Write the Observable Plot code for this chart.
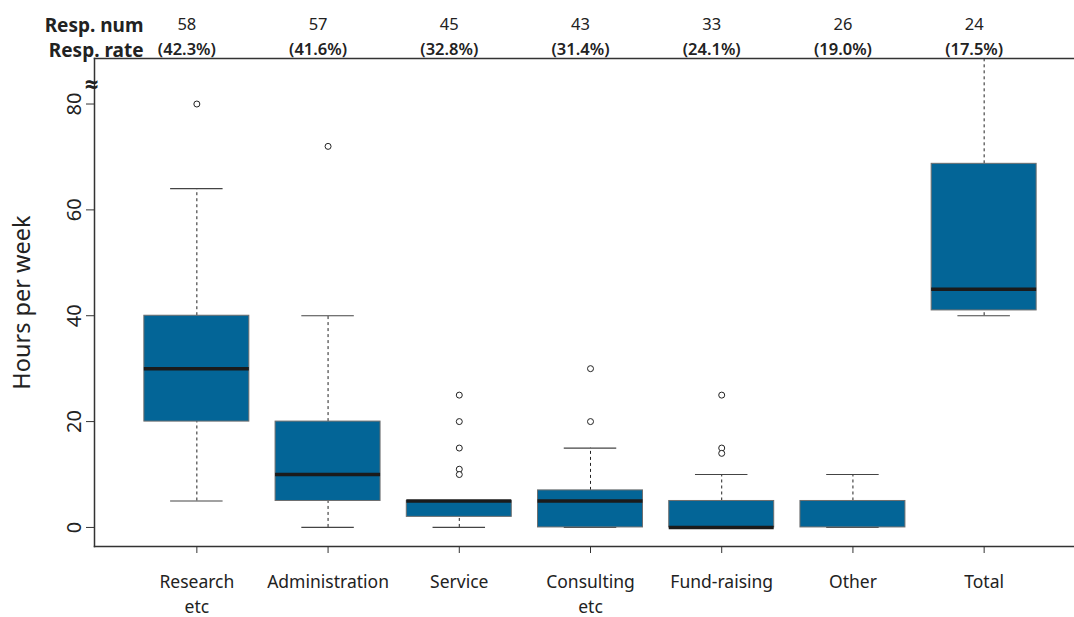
<!DOCTYPE html>
<html>
<head>
<meta charset="utf-8">
<script src="https://cdn.jsdelivr.net/npm/d3@7"></script>
<script src="https://cdn.jsdelivr.net/npm/@observablehq/plot@0.6"></script>
<style>
  html, body { margin: 0; padding: 0; background: #fff; }
  svg { display: block; }
</style>
</head>
<body>
<div id="chart"></div>
<script>
// ---- data ----
const categories = ["Research\netc", "Administration", "Service", "Consulting\netc", "Fund-raising", "Other", "Total"];
const respNum   = ["58", "57", "45", "43", "33", "26", "24"];
const respRate  = ["(42.3%)", "(41.6%)", "(32.8%)", "(31.4%)", "(24.1%)", "(19.0%)", "(17.5%)"];
const q1        = [20, 5, 2, 0, 0, 0, 41];
const median    = [30, 10, 5, 5, 0, NaN, 45];
const q3        = [40, 20, 5, 7, 5, 5, 68.7];
const whiskerLo = [5, 0, 0, 0, 0, 0, 40];
const whiskerHi = [64, 40, 5, 15, 10, 10, 120];
const outliers  = [[80], [72], [25, 20, 15, 11, 10], [30, 20], [25, 15, 14], [], []];
const yTicks    = [0, 20, 40, 60, 80];
const breakAt   = [83.6];

// ---- derived tables ----
const boxes = categories.map((c, i) => ({
  pos: i + 1, name: c, q1: q1[i], med: median[i], q3: q3[i],
  lo: whiskerLo[i], hi: whiskerHi[i], num: respNum[i], rate: respRate[i]
}));
const outlierPts = outliers.flatMap((vals, i) => vals.map(v => ({pos: i + 1, v})));
const half = 0.4, capHalf = 0.2;

const ink = "#222";
const chart = Plot.plot({
  width: 1074,
  height: 617,
  marginTop: 58,
  marginBottom: 71,
  marginLeft: 94,
  marginRight: 0,
  style: {fontFamily: "'Noto Sans', 'Open Sans', sans-serif", color: ink, background: "#fff"},
  x: {type: "linear", domain: [0.22, 7.78], range: [94, 1086]},
  y: {domain: [-3.6, 88.6]},
  marks: [
    // whiskers
    Plot.ruleX(boxes, {x: "pos", y1: "q3", y2: "hi", stroke: ink, strokeWidth: 1, strokeDasharray: "3,3", clip: true}),
    Plot.ruleX(boxes, {x: "pos", y1: "lo", y2: "q1", stroke: ink, strokeWidth: 1, strokeDasharray: "3,3", clip: true}),
    // caps
    Plot.ruleY(boxes, {y: "hi", x1: d => d.pos - capHalf, x2: d => d.pos + capHalf, stroke: "#444", strokeWidth: 1.2, clip: true}),
    Plot.ruleY(boxes, {y: "lo", x1: d => d.pos - capHalf, x2: d => d.pos + capHalf, stroke: "#444", strokeWidth: 1.2, clip: true}),
    // boxes
    Plot.rect(boxes, {x1: d => d.pos - half, x2: d => d.pos + half, y1: "q1", y2: "q3", fill: "#036597", stroke: "#6e6e6e", strokeWidth: 1}),
    // medians
    Plot.ruleY(boxes.filter(d => !isNaN(d.med)), {y: "med", x1: d => d.pos - half, x2: d => d.pos + half, stroke: "#1b1b1b", strokeWidth: 3.5}),
    // outliers
    Plot.dot(outlierPts, {x: "pos", y: "v", r: 3, stroke: ink, strokeWidth: 1, fill: "#fff"}),
    // frame (top, left, bottom)
    Plot.frame({anchor: "top", stroke: "#333", strokeWidth: 1.5}),
    Plot.frame({anchor: "left", stroke: "#333", strokeWidth: 1.5}),
    Plot.frame({anchor: "bottom", stroke: "#333", strokeWidth: 1.5}),
    // axes
    Plot.axisY({ticks: yTicks, tickSize: 8, tickPadding: 6, tickRotate: -90, fontSize: 20, label: null, stroke: "#333"}),
    Plot.axisX({ticks: boxes.map(d => d.pos), tickFormat: (d) => categories[d - 1], tickSize: 7, tickPadding: 16, fontSize: 17.5, lineHeight: 1.45, label: null, stroke: "#333"}),
    // y label
    Plot.text(["Hours per week"], {frameAnchor: "left", dx: -72, rotate: -90, textAnchor: "middle", fontSize: 23.5, fill: ink}),
    // axis break symbol
    Plot.text(breakAt, {y: d => d, frameAnchor: "left", text: () => "\u2248", textAnchor: "middle", dx: -3, fontSize: 24, fontWeight: "bold", fill: ink}),
    // top response annotations
    Plot.text(boxes, {x: "pos", frameAnchor: "top", dy: -40, dx: -10, text: "num", fontSize: 16.5, fill: ink}),
    Plot.text(boxes, {x: "pos", frameAnchor: "top", dy: -15, dx: -10, text: "rate", fontSize: 16.5, fontWeight: 600, fill: ink}),
    Plot.text(["Resp. num"], {frameAnchor: "top-left", dx: 49, dy: -40, textAnchor: "end", fontSize: 19, fontWeight: "bold", fill: ink}),
    Plot.text(["Resp. rate"], {frameAnchor: "top-left", dx: 49, dy: -15, textAnchor: "end", fontSize: 19, fontWeight: "bold", fill: ink})
  ]
});
document.getElementById("chart").appendChild(chart);
</script>
</body>
</html>
